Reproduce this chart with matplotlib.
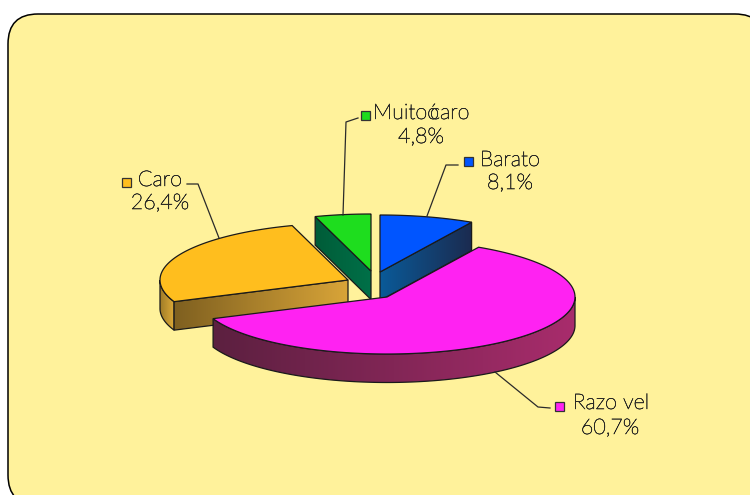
import numpy as np
import matplotlib
matplotlib.use("Agg")
import matplotlib.pyplot as plt
import matplotlib.patheffects as pe
from matplotlib.patches import Polygon, FancyBboxPatch, Rectangle

# ---- data ----
labels = ["Barato", "Razo vel", "Caro", "Muito caro"]
values = [8.1, 60.7, 26.4, 4.8]
percent_labels = ["8,1%", "60,7%", "26,4%", "4,8%"]

# ---- style ----
W, H = 750, 495
BG = "#FFF29B"
INK = "#2A2A26"
TOP = ["#0055FF", "#FF22F2", "#FFBE1E", "#1EDD1E"]
SIDE = [("#0A5A98", "#1B2B50"), ("#5C2040", "#A82C6C"),
        ("#7F6020", "#D8A438"), ("#005C38", "#007048")]
APEX = [(380, 272), (387, 297), (348, 280), (371, 271)]
RX, RY, DEPTH = 188, 57, 28.5

fig = plt.figure(figsize=(W / 100, H / 100), dpi=100, facecolor="white")
ax = fig.add_axes([0, 0, 1, 1])
ax.set_xlim(0, W)
ax.set_ylim(H, 0)
ax.axis("off")

ax.add_patch(FancyBboxPatch((8 + 30, 14 + 30), 757 - 60, 491 - 60,
                            boxstyle="round,pad=30,rounding_size=30",
                            fc=BG, ec="black", lw=1.1, zorder=0))

edges = np.cumsum([0] + values) / sum(values) * 2 * np.pi


def pt(c, t, dz=0.0):
    return np.array([c[0] + RX * np.sin(t), c[1] - RY * np.cos(t) + dz])


def arc(c, t0, t1, dz=0.0):
    ts = np.linspace(t0, t1, 160)
    return np.column_stack([c[0] + RX * np.sin(ts), c[1] - RY * np.cos(ts) + dz])


def shaded(poly, c0, c1, z):
    """fill polygon with a horizontal gradient c0->c1"""
    x0, x1 = poly[:, 0].min(), poly[:, 0].max()
    y0, y1 = poly[:, 1].min(), poly[:, 1].max()
    rgb0 = np.array(matplotlib.colors.to_rgb(c0))
    rgb1 = np.array(matplotlib.colors.to_rgb(c1))
    f = np.linspace(0, 1, 64)[None, :, None]
    img = rgb0 + (rgb1 - rgb0) * f
    im = ax.imshow(img, extent=(x0, x1, y1, y0), aspect="auto", zorder=z,
                   interpolation="bilinear")
    p = Polygon(poly, closed=True, fc="none", ec="#1a1a1a", lw=0.9, zorder=z + 0.1)
    ax.add_patch(p)
    im.set_clip_path(p)


def top(i, z):
    c = APEX[i]
    t0, t1 = edges[i], edges[i + 1]
    poly = np.vstack([[c], arc(c, t0, t1)])
    ax.add_patch(Polygon(poly, closed=True, fc=TOP[i], ec="#1a1a1a", lw=0.9, zorder=z))


def face(i, t, z, c0=None, c1=None):
    c = APEX[i]
    a, b = np.array(c, float), pt(c, t)
    poly = np.array([a, b, b + [0, DEPTH], a + [0, DEPTH]])
    shaded(poly, c0 or SIDE[i][0], c1 or SIDE[i][1], z)


def wall(i, t0, t1, z, c0=None, c1=None):
    c = APEX[i]
    poly = np.vstack([arc(c, t0, t1), arc(c, t1, t0, DEPTH)])
    shaded(poly, c0 or SIDE[i][0], c1 or SIDE[i][1], z)


# Muito caro (index 3)
face(3, edges[3], 1)
top(3, 1.5)
# Barato (index 0)
face(0, edges[1], 2)
top(0, 2.5)
# Caro (index 2)
wall(2, edges[2], 1.5 * np.pi, 3, "#A07C28", "#E0AC38")
face(2, edges[2], 3.2)
top(2, 3.5)
# Razoavel (index 1)
wall(1, np.pi / 2, edges[2], 4)
top(1, 4.5)

# ---- leaders, keys, labels ----
LEADERS = [[(458, 165), (446, 165), (427, 216)],
           [(550, 408), (538, 407), (495, 372)],
           [(187, 184), (198, 184), (219, 238)],
           [(358, 118), (346, 122), (343, 215)]]
KEYS = [(468, 161), (559, 406), (126, 182), (365, 115)]
NAME_XY = [(510, 160), (611, 403), (160, 180), (421, 113)]
PCT_XY = [(510, 183), (610, 428), (160, 203), (421, 137)]
STROKE = [pe.withStroke(linewidth=0.4, foreground=INK)]
FONT = dict(family="Lato", fontweight="light", fontsize=15.5, color=INK,
            ha="center", va="center", zorder=6, path_effects=STROKE)

for i in range(4):
    xs, ys = zip(*LEADERS[i])
    ax.plot(xs, ys, color="#2a2a2a", lw=0.9, zorder=5)
    kx, ky = KEYS[i]
    ax.add_patch(Rectangle((kx - 4.5, ky - 4.5), 9, 9, fc=TOP[i],
                           ec="#333333", lw=0.9, zorder=6))
    ax.text(*PCT_XY[i], percent_labels[i], **FONT)
    if i != 3:
        ax.text(*NAME_XY[i], labels[i], **FONT)

# the source renders a stray glyph of this label overlapped on the "c"
name = labels[3].split(" ")
ax.text(373, 113, name[0] + "ó", **{**FONT, "ha": "left"})
ax.text(430, 113, name[1], **{**FONT, "ha": "left"})

fig.savefig("out.png", dpi=100, facecolor="white")
